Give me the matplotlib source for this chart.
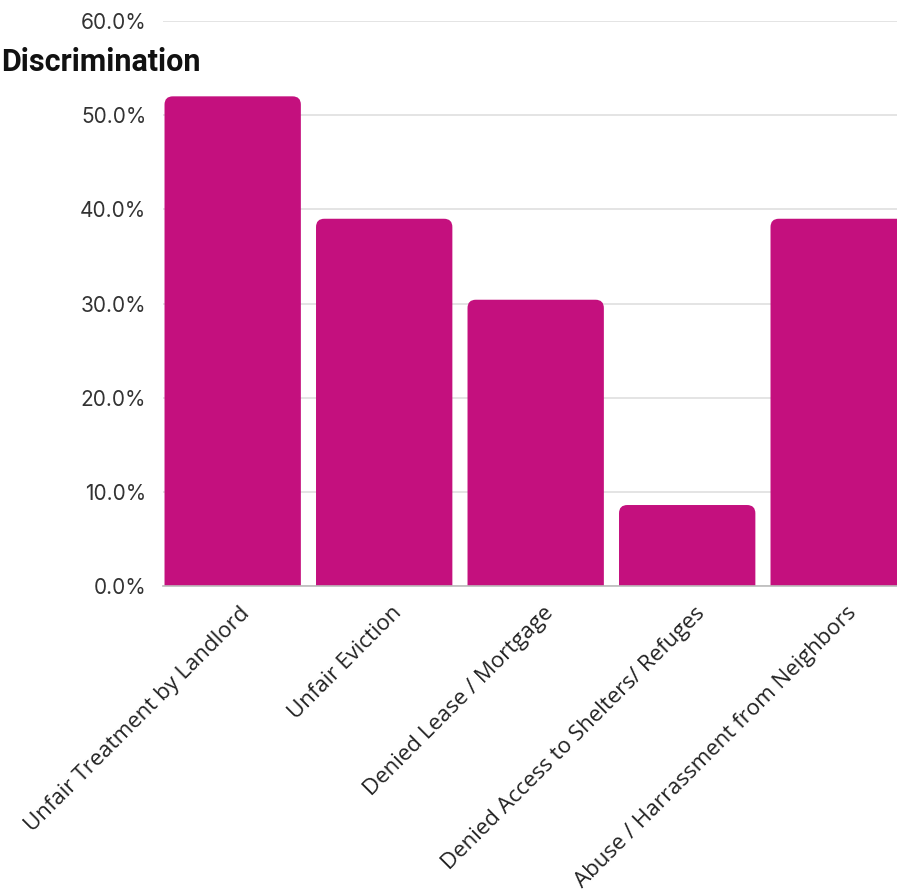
import matplotlib.pyplot as plt
from matplotlib.patches import FancyBboxPatch
from matplotlib.ticker import FuncFormatter
from matplotlib.transforms import ScaledTranslation

categories = ['Unfair Treatment by Landlord', 'Unfair Eviction', 'Denied Lease / Mortgage',
              'Denied Access to Shelters/ Refuges', 'Abuse / Harrassment from Neighbors']
values = [52.0, 39.0, 30.4, 8.6, 39.0]
yticks = [0, 10, 20, 30, 40, 50, 60]
title = 'Discrimination'

bar_color = '#C4107E'

fig = plt.figure(figsize=(8.97, 8.94), dpi=100)
ax = fig.add_axes([163 / 897, 1 - 586 / 894, 4.96 * 151.5 / 897, 565 / 894])

bars = ax.bar(range(len(values)), values, width=0.9, color='none')
# rounded corners (bottom part hidden below 0)
for b in bars:
    x, w, h = b.get_x(), b.get_width(), b.get_height()
    p = FancyBboxPatch((x, -3), w, h + 3,
                       boxstyle='round,pad=0,rounding_size=0.055',
                       mutation_aspect=16, fc=bar_color, ec='none', zorder=3)
    ax.add_patch(p)

ax.set_xlim(-0.46, 4.5)
ax.set_ylim(0, 60)
ax.set_yticks(yticks)
ax.yaxis.set_major_formatter(FuncFormatter(lambda v, p: f'{v:.1f}%'))
ax.grid(axis='y', color='#dddddd', linewidth=1.1, zorder=0)
ax.set_axisbelow(True)
for s in ['top', 'right', 'left']:
    ax.spines[s].set_visible(False)
ax.spines['bottom'].set_color('#bbbbbb')
ax.spines['bottom'].set_linewidth(1.2)
ax.spines['bottom'].set_zorder(4)
ax.tick_params(axis='y', length=0, pad=12, labelsize=15, labelcolor='#333333')
for t in ax.get_yticklabels():
    t.set_fontfamily('Inter')

ax.set_xticks(range(len(categories)))
ax.set_xticklabels(categories, rotation=45, ha='right', va='top',
                   rotation_mode='anchor', fontsize=16, family='Open Sans', color='#222222')
ax.tick_params(axis='x', length=0, pad=12)
off = ScaledTranslation(7 / 100, 0, fig.dpi_scale_trans)
for t in ax.get_xticklabels():
    t.set_transform(t.get_transform() + off)

fig.text(1 / 897, 1 - 71 / 894, title, ha='left', va='baseline',
         fontsize=22, fontweight='bold', family='Roboto', color='#111111')

plt.savefig('out.png', dpi=100)
